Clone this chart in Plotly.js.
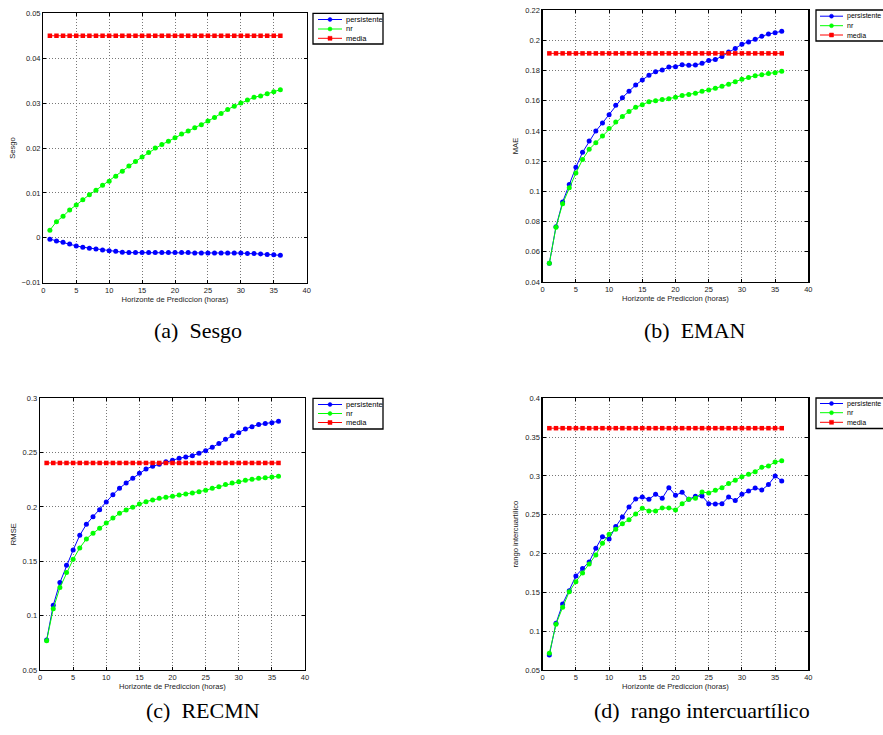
<!DOCTYPE html>
<html><head><meta charset="utf-8">
<script src="https://cdn.plot.ly/plotly-3.0.1.min.js"></script>
<style>body{margin:0;background:#fff}#chart{width:883px;height:735px}</style>
</head><body><div id="chart"></div><script>
// ---------- data ----------
const horas = [1,2,3,4,5,6,7,8,9,10,11,12,13,14,15,16,17,18,19,20,21,22,23,24,25,26,27,28,29,30,31,32,33,34,35,36];
const seriesNames = ['persistente','nr','media'];
const seriesColors = ['#0000ff','#00ff00','#ff0000'];
const xTitle = 'Horizonte de Prediccion (horas)';
const yTitles = ['Sesgo','MAE','RMSE','rango intercuartílico'];
const captions = ['(a)  Sesgo','(b)  EMAN','(c)  RECMN','(d)  rango intercuartílico'];

const sesgoPersistente = [-0.0003,-0.0007,-0.0010,-0.0014,-0.0018,-0.0021,-0.0023,-0.0025,-0.0027,-0.0029,-0.0030,-0.0032,-0.0033,-0.0033,-0.0033,-0.0033,-0.0033,-0.0033,-0.0033,-0.0033,-0.0033,-0.0033,-0.0034,-0.0034,-0.0034,-0.0034,-0.0034,-0.0034,-0.0034,-0.0034,-0.0035,-0.0035,-0.0036,-0.0037,-0.0038,-0.0039];
const sesgoNr = [0.0017,0.0036,0.0048,0.0062,0.0073,0.0085,0.0096,0.0106,0.0117,0.0126,0.0137,0.0148,0.0160,0.0170,0.0180,0.0190,0.0200,0.0208,0.0215,0.0223,0.0231,0.0238,0.0245,0.0252,0.0260,0.0268,0.0277,0.0286,0.0293,0.0300,0.0307,0.0313,0.0316,0.0321,0.0325,0.0330];
const sesgoMedia = [0.045,0.045,0.045,0.045,0.045,0.045,0.045,0.045,0.045,0.045,0.045,0.045,0.045,0.045,0.045,0.045,0.045,0.045,0.045,0.045,0.045,0.045,0.045,0.045,0.045,0.045,0.045,0.045,0.045,0.045,0.045,0.045,0.045,0.045,0.045,0.045];

const maePersistente = [0.0524,0.0766,0.0929,0.1046,0.1159,0.1258,0.1333,0.1399,0.1452,0.1507,0.1569,0.1620,0.1662,0.1704,0.1737,0.1768,0.1792,0.1803,0.1823,0.1825,0.1838,0.1834,0.1836,0.1847,0.1865,0.1873,0.1893,0.1922,0.1946,0.1973,0.1988,0.2006,0.2026,0.2041,0.2050,0.2059];
const maeNr = [0.0524,0.0762,0.0918,0.1024,0.1121,0.1210,0.1278,0.1322,0.1366,0.1415,0.1459,0.1496,0.1529,0.1556,0.1573,0.1593,0.1600,0.1607,0.1613,0.1622,0.1635,0.1640,0.1649,0.1662,0.1671,0.1682,0.1695,0.1708,0.1726,0.1741,0.1754,0.1765,0.1772,0.1779,0.1785,0.1794];
const maeMedia = [0.1913,0.1913,0.1913,0.1913,0.1913,0.1913,0.1913,0.1913,0.1913,0.1913,0.1913,0.1913,0.1913,0.1913,0.1913,0.1913,0.1913,0.1913,0.1913,0.1913,0.1913,0.1913,0.1913,0.1913,0.1913,0.1913,0.1913,0.1913,0.1913,0.1913,0.1913,0.1913,0.1913,0.1913,0.1913,0.1913];

const rmsePersistente = [0.0776,0.1095,0.1304,0.1463,0.1604,0.1739,0.1840,0.1911,0.1975,0.2046,0.2113,0.2172,0.2221,0.2264,0.2310,0.2350,0.2374,0.2393,0.2417,0.2429,0.2448,0.2460,0.2472,0.2494,0.2518,0.2549,0.2583,0.2623,0.2656,0.2684,0.2718,0.2739,0.2758,0.2767,0.2776,0.2788];
const rmseNr = [0.0770,0.1064,0.1258,0.1396,0.1518,0.1623,0.1706,0.1758,0.1804,0.1853,0.1899,0.1942,0.1972,0.1997,0.2028,0.2049,0.2065,0.2080,0.2089,0.2098,0.2110,0.2120,0.2129,0.2141,0.2153,0.2172,0.2187,0.2206,0.2221,0.2233,0.2245,0.2255,0.2264,0.2270,0.2276,0.2282];
const rmseMedia = [0.2405,0.2405,0.2405,0.2405,0.2405,0.2405,0.2405,0.2405,0.2405,0.2405,0.2405,0.2405,0.2405,0.2405,0.2405,0.2405,0.2405,0.2405,0.2405,0.2405,0.2405,0.2405,0.2405,0.2405,0.2405,0.2405,0.2405,0.2405,0.2405,0.2405,0.2405,0.2405,0.2405,0.2405,0.2405,0.2405];

const iqrPersistente = [0.0693,0.1101,0.1350,0.1522,0.1711,0.1806,0.1891,0.2068,0.2218,0.2188,0.2347,0.2471,0.2600,0.2703,0.2729,0.2699,0.2763,0.2712,0.2849,0.2750,0.2789,0.2699,0.2737,0.2742,0.2643,0.2639,0.2643,0.2729,0.2682,0.2763,0.2806,0.2845,0.2819,0.2888,0.2999,0.2935];
const iqrNr = [0.0715,0.1088,0.1307,0.1509,0.1638,0.1750,0.1866,0.1982,0.2132,0.2248,0.2312,0.2385,0.2437,0.2510,0.2583,0.2549,0.2549,0.2587,0.2587,0.2561,0.2643,0.2699,0.2712,0.2793,0.2780,0.2815,0.2849,0.2901,0.2944,0.2991,0.3021,0.3055,0.3111,0.3128,0.3180,0.3197];
const iqrMedia = [0.3615,0.3615,0.3615,0.3615,0.3615,0.3615,0.3615,0.3615,0.3615,0.3615,0.3615,0.3615,0.3615,0.3615,0.3615,0.3615,0.3615,0.3615,0.3615,0.3615,0.3615,0.3615,0.3615,0.3615,0.3615,0.3615,0.3615,0.3615,0.3615,0.3615,0.3615,0.3615,0.3615,0.3615,0.3615,0.3615];

const yRanges = [[-0.01,0.05],[0.04,0.22],[0.05,0.3],[0.05,0.4]];
const yDticks = [0.01,0.02,0.05,0.05];
const panelSeries = [
  [sesgoPersistente, sesgoNr, sesgoMedia],
  [maePersistente, maeNr, maeMedia],
  [rmsePersistente, rmseNr, rmseMedia],
  [iqrPersistente, iqrNr, iqrMedia]
];

// ---------- layout geometry (pixels) ----------
const W = 883, H = 735;
const px = x => x / W;
const py = y => 1 - y / H;
const boxes = [
  {x0:43.3, x1:306.7, y0:13.3, y1:282.7},
  {x0:542.7, x1:808.3, y0:10, y1:282},
  {x0:40, x1:305, y0:398.3, y1:670},
  {x0:542.7, x1:808.3, y0:398.3, y1:670}
];
const legendBoxes = [
  {x0:313, x1:383, y0:13.3, y1:44, rows:[19.5,29,38.3], lx0:318, lx1:342, tx:343.5, fs:7.5},
  {x0:816, x1:890, y0:10, y1:41, rows:[16.2,25.7,35], lx0:820, lx1:843, tx:845, fs:7},
  {x0:313, x1:383, y0:398.3, y1:429, rows:[404.5,413.5,422.5], lx0:318, lx1:342, tx:343.5, fs:7.5},
  {x0:816, x1:890, y0:398, y1:428.5, rows:[403.5,412.7,422.3], lx0:820, lx1:843, tx:845, fs:7}
];
const captionPos = [[198,331],[695,331],[203,710],[702,710]];

const symbols = ['circle','circle','square'];
const traces = [];
const layout = {
  width: W, height: H,
  margin: {l:0, r:0, t:0, b:0},
  paper_bgcolor: '#fff', plot_bgcolor: '#fff',
  showlegend: false,
  font: {family: 'Liberation Sans, Arial, sans-serif', size: 7.5, color: '#000'},
  shapes: [], annotations: []
};

panelSeries.forEach((ser, p) => {
  const sfx = p === 0 ? '' : String(p + 1);
  ser.forEach((vals, s) => {
    traces.push({
      x: horas, y: vals, type: 'scatter', mode: 'lines+markers',
      name: seriesNames[s], xaxis: 'x' + sfx, yaxis: 'y' + sfx,
      line: {color: seriesColors[s], width: 1},
      marker: {color: seriesColors[s], size: s === 2 ? 4.5 : 5, symbol: symbols[s]},
      cliponaxis: false
    });
  });
  const b = boxes[p];
  const common = {
    showline: true, linecolor: '#000', linewidth: 1.3, mirror: 'ticks',
    ticks: 'inside', ticklen: 3, tickcolor: '#000', tickwidth: 1,
    showgrid: true, gridcolor: '#777', griddash: '1px,2px', gridwidth: 1,
    zeroline: false, tickfont: {size: 7.5, color: '#222'}
  };
  layout['xaxis' + sfx] = Object.assign({}, common, {
    domain: [px(b.x0), px(b.x1)], anchor: 'y' + sfx,
    range: [0, 40], dtick: 5, tick0: 0,
    title: {text: xTitle, font: {size: 7.6, color: '#222'}, standoff: 2}
  });
  layout['yaxis' + sfx] = Object.assign({}, common, {
    domain: [py(b.y1), py(b.y0)], anchor: 'x' + sfx,
    range: yRanges[p], dtick: yDticks[p], tick0: 0,
    title: {text: yTitles[p], font: {size: 7.6, color: '#222'}, standoff: 5}
  });

  // legend drawn as shapes + text
  const L = legendBoxes[p];
  layout.shapes.push({type:'rect', xref:'paper', yref:'paper',
    x0:px(L.x0), x1:px(L.x1), y0:py(L.y1), y1:py(L.y0),
    line:{color:'#000', width:1.3}, fillcolor:'#fff'});
  seriesNames.forEach((nm, s) => {
    const ry = L.rows[s];
    layout.shapes.push({type:'line', xref:'paper', yref:'paper',
      x0:px(L.lx0), x1:px(L.lx1), y0:py(ry), y1:py(ry),
      line:{color:seriesColors[s], width:1}});
    const mx = (L.lx0 + L.lx1) / 2;
    layout.shapes.push({type: s === 2 ? 'rect' : 'circle', xref:'paper', yref:'paper',
      x0:px(mx - 2), x1:px(mx + 2), y0:py(ry + 2), y1:py(ry - 2),
      line:{color:seriesColors[s], width:0.5}, fillcolor:seriesColors[s]});
    layout.annotations.push({xref:'paper', yref:'paper', x:px(L.tx), y:py(ry),
      xanchor:'left', yanchor:'middle', text:nm, showarrow:false,
      font:{size:L.fs, color:'#000'}});
  });

  const c = captionPos[p];
  layout.annotations.push({xref:'paper', yref:'paper', x:px(c[0]), y:py(c[1]),
    xanchor:'center', yanchor:'middle', text:captions[p], showarrow:false,
    font:{family:'Liberation Serif, DejaVu Serif, serif', size:22, color:'#000'}});
});

Plotly.newPlot('chart', traces, layout, {displayModeBar:false, staticPlot:true});
</script></body></html>
